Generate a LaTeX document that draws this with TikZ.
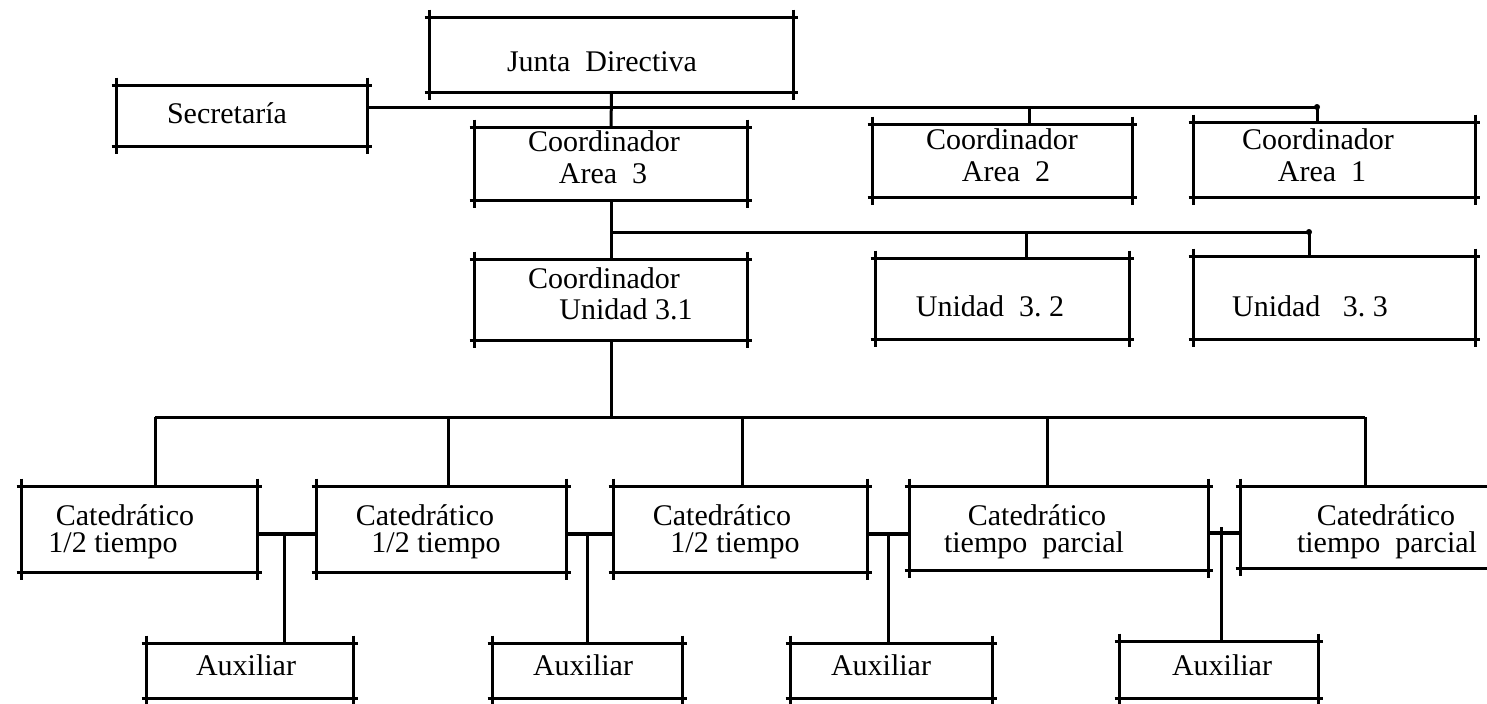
\documentclass[tikz,border=0pt]{standalone}
\usepackage{fontspec}
\setmainfont{Liberation Serif}
\tikzset{
  bx/.style={rectangle, draw=none, inner sep=0pt},
  frame/.style={line width=1.7pt, line cap=butt},
  conn/.style={line width=1.5pt},
  lbl/.style={inner sep=0pt, anchor=base, font=\fontsize{15}{18}\selectfont},
  knob/.style={fill=black, circle, inner sep=0pt, minimum size=3pt}
}
\newcommand\orgbox[5]{%
  \node[bx, minimum width={(#4-#2)*0.5pt}, minimum height={(#5-#3)*0.5pt}] (#1) at ({(#2+#4)/2},{(#3+#5)/2}) {};
  \draw[frame] ([xshift=-2.5pt]#1.north west) -- ([xshift=2.5pt]#1.north east);
  \draw[frame] ([xshift=-2.5pt]#1.south west) -- ([xshift=2.5pt]#1.south east);
  \draw[frame] ([yshift=4pt]#1.north west) -- ([yshift=-4pt]#1.south west);
  \draw[frame] ([yshift=4pt]#1.north east) -- ([yshift=-4pt]#1.south east);
}
\begin{document}
\begin{tikzpicture}[x=0.5pt,y=-0.5pt]
\useasboundingbox (0,0) rectangle (1487,703);
\clip (0,0) rectangle (1487,703);
% boxes
\orgbox{jd}{430}{18}{793}{92}
\orgbox{sec}{117}{86}{367}{146}
\orgbox{a3}{475}{128}{747}{200}
\orgbox{a2}{873}{125}{1132}{197}
\orgbox{a1}{1194}{123}{1475}{197}
\orgbox{u31}{475}{260}{747}{340}
\orgbox{u32}{876}{259}{1129}{339}
\orgbox{u33}{1194}{257}{1475}{339}
\orgbox{c1}{22}{487}{257}{572}
\orgbox{c2}{317}{487}{566}{572}
\orgbox{c3}{614}{487}{867}{572}
\orgbox{c4}{910}{487}{1208}{570}
\orgbox{c5}{1241}{487}{1510}{568}
\orgbox{x1}{147}{644}{353}{698}
\orgbox{x2}{493}{644}{682}{698}
\orgbox{x3}{791}{644}{992}{698}
\orgbox{x4}{1120}{642}{1318}{698}
% labels
\node[lbl] (jdt) at (602,71) {Junta\ \ Directiva};
\node[lbl] (sect) at (227,123) {Secretaría};
\node[lbl] (a3t1) at (604,151) {Coordinador};
\node[lbl] (a3t2) at (603,183) {Area\ \ 3};
\node[lbl] (a2t1) at (1002,149) {Coordinador};
\node[lbl] (a2t2) at (1006,181) {Area\ \ 2};
\node[lbl] (a1t1) at (1318,149) {Coordinador};
\node[lbl] (a1t2) at (1322,181) {Area\ \ 1};
\node[lbl] (u31t1) at (604,288) {Coordinador};
\node[lbl] (u31t2) at (626,319) {Unidad 3.1};
\node[lbl] (u32t) at (990,316) {Unidad\ \ 3.\ 2};
\node[lbl] (u33t) at (1310,316) {Unidad\ \ \ 3.\ 3};
\node[lbl] (c1t1) at (125,525) {Catedrático};
\node[lbl] (c1t2) at (113,552) {1/2 tiempo};
\node[lbl] (c2t1) at (425,525) {Catedrático};
\node[lbl] (c2t2) at (436,552) {1/2 tiempo};
\node[lbl] (c3t1) at (722,525) {Catedrático};
\node[lbl] (c3t2) at (735,552) {1/2 tiempo};
\node[lbl] (c4t1) at (1037,525) {Catedrático};
\node[lbl] (c4t2) at (1034,552) {tiempo\ \ parcial};
\node[lbl] (c5t1) at (1386,525) {Catedrático};
\node[lbl] (c5t2) at (1387,552) {tiempo\ \ parcial};
\node[lbl] (x1t) at (246,675) {Auxiliar};
\node[lbl] (x2t) at (583,675) {Auxiliar};
\node[lbl] (x3t) at (881,675) {Auxiliar};
\node[lbl] (x4t) at (1222,675) {Auxiliar};
% first level
\coordinate (b1) at (611,107);
\coordinate (b1e) at (1317,107);
\coordinate (t2) at (1029,107);
\draw[conn] (sec.east |- b1) -- (b1e);
\draw[conn] (jd.south) -- (a3.north);
\draw[conn] (t2) -- (t2 |- a2.north);
\draw[conn] (b1e) -- (b1e |- a1.north);
\node[knob] (k1) at (b1e) {};
% second level
\coordinate (b2) at (611,232);
\coordinate (b2e) at (1309,232);
\coordinate (t3) at (1026,232);
\draw[conn] (a3.south) -- (u31.north);
\draw[conn] (b2) -- (b2e);
\draw[conn] (t3) -- (t3 |- u32.north);
\draw[conn] (b2e) -- (b2e |- u33.north);
\node[knob] (k2) at (b2e) {};
% third level
\coordinate (b3) at (611,417);
\coordinate (d1) at (155,417);
\coordinate (d2) at (448,417);
\coordinate (d3) at (742,417);
\coordinate (d4) at (1047,417);
\coordinate (d5) at (1365,417);
\draw[conn] (u31.south) -- (b3);
\draw[conn] (d1) -- (d5);
\draw[conn] (d1) -- (d1 |- c1.north);
\draw[conn] (d2) -- (d2 |- c2.north);
\draw[conn] (d3) -- (d3 |- c3.north);
\draw[conn] (d4) -- (d4 |- c4.north);
\draw[conn] (d5) -- (d5 |- c5.north);
% catedratico pairs and auxiliares
\coordinate (p1) at (284,534);
\coordinate (p2) at (587,534);
\coordinate (p3) at (888,534);
\coordinate (p4) at (1221,533);
\draw[frame] (c1.east |- p1) -- (c2.west |- p1);
\draw[conn] (p1) -- (p1 |- x1.north);
\draw[frame] (c2.east |- p2) -- (c3.west |- p2);
\draw[conn] (p2) -- (p2 |- x2.north);
\draw[frame] (c3.east |- p3) -- (c4.west |- p3);
\draw[conn] (p3) -- (p3 |- x3.north);
\draw[frame] (c4.east |- p4) -- (c5.west |- p4);
\draw[conn] ([yshift=3pt]p4) -- (p4 |- x4.north);
\end{tikzpicture}
\end{document}
